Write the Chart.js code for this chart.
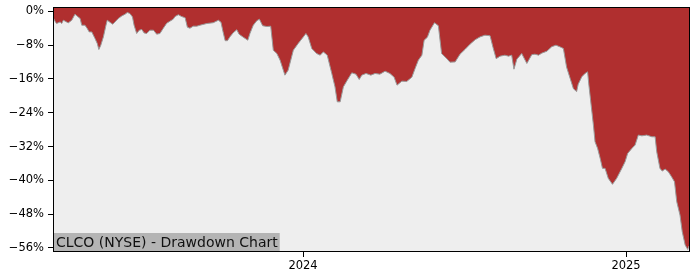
<!DOCTYPE html>
<html>
<head>
<meta charset="utf-8">
<script src="https://cdn.jsdelivr.net/npm/chart.js@4/dist/chart.umd.min.js"></script>
<style>
  body { margin: 0; background: #fff; }
</style>
</head>
<body>
<canvas id="drawdown" width="700" height="280"></canvas>
<script>
// dates as decimal years, drawdown in %
var dates = [
  2023.226, 2023.232, 2023.237, 2023.248, 2023.253, 2023.258, 2023.268, 2023.273, 2023.284, 2023.294,
  2023.304, 2023.310, 2023.315, 2023.325, 2023.332, 2023.338, 2023.346, 2023.356, 2023.363, 2023.368,
  2023.374, 2023.382, 2023.390, 2023.394, 2023.405, 2023.411, 2023.418, 2023.428, 2023.439, 2023.449,
  2023.456, 2023.464, 2023.472, 2023.477, 2023.485, 2023.493, 2023.501, 2023.508, 2023.516, 2023.526,
  2023.537, 2023.547, 2023.557, 2023.567, 2023.578, 2023.588, 2023.598, 2023.604, 2023.614, 2023.624,
  2023.635, 2023.642, 2023.650, 2023.660, 2023.671, 2023.681, 2023.702, 2023.722, 2023.738, 2023.746,
  2023.752, 2023.759, 2023.766, 2023.774, 2023.784, 2023.795, 2023.802, 2023.815, 2023.829, 2023.836,
  2023.846, 2023.857, 2023.865, 2023.875, 2023.888, 2023.900, 2023.908, 2023.919, 2023.929, 2023.944,
  2023.954, 2023.970, 2023.985, 2024.001, 2024.009, 2024.016, 2024.027, 2024.042, 2024.053, 2024.063,
  2024.075, 2024.089, 2024.099, 2024.106, 2024.115, 2024.125, 2024.137, 2024.151, 2024.164, 2024.174,
  2024.182, 2024.195, 2024.210, 2024.223, 2024.238, 2024.254, 2024.269, 2024.282, 2024.291, 2024.306,
  2024.321, 2024.337, 2024.347, 2024.357, 2024.368, 2024.375, 2024.385, 2024.393, 2024.407, 2024.419,
  2024.429, 2024.445, 2024.455, 2024.471, 2024.486, 2024.502, 2024.517, 2024.533, 2024.548, 2024.563,
  2024.579, 2024.588, 2024.598, 2024.610, 2024.625, 2024.636, 2024.646, 2024.653, 2024.662, 2024.677,
  2024.693, 2024.708, 2024.718, 2024.729, 2024.739, 2024.755, 2024.770, 2024.783, 2024.796, 2024.806,
  2024.816, 2024.827, 2024.837, 2024.847, 2024.852, 2024.863, 2024.873, 2024.881, 2024.885, 2024.892,
  2024.899, 2024.904, 2024.912, 2024.920, 2024.927, 2024.935, 2024.945, 2024.958, 2024.971, 2024.987,
  2024.997, 2025.005, 2025.018, 2025.028, 2025.038, 2025.049, 2025.064, 2025.080, 2025.090, 2025.095,
  2025.105, 2025.112, 2025.121, 2025.131, 2025.141, 2025.150, 2025.157, 2025.167, 2025.174, 2025.183,
  2025.191, 2025.195
];
var drawdown = [
  -1.42, -2.36, -2.91, -2.53, -2.91, -2.13, -2.53, -2.76, -2.13, -0.71,
  -1.35, -1.73, -3.31, -3.31, -4.09, -4.89, -4.89, -6.45, -7.63, -9.05,
  -8.03, -6.07, -3.31, -2.13, -2.76, -3.07, -2.53, -1.73, -1.11, -0.71,
  -0.31, -0.54, -1.35, -3.31, -5.27, -4.49, -4.32, -5.13, -5.27, -4.49,
  -4.49, -5.43, -5.27, -4.09, -2.84, -2.36, -1.89, -1.25, -0.83, -1.25,
  -1.54, -3.78, -4.02, -3.54, -3.54, -3.31, -2.91, -2.72, -2.13, -2.60,
  -4.73, -6.97, -6.97, -6.03, -5.08, -4.37, -5.43, -6.14, -6.85, -5.20,
  -3.31, -2.24, -1.89, -3.43, -3.62, -3.54, -9.22, -10.00, -11.58, -15.12,
  -13.94, -9.22, -7.63, -6.07, -5.27, -6.07, -8.81, -10.00, -10.40, -9.62,
  -10.40, -14.72, -17.89, -21.43, -21.43, -17.89, -16.31, -14.58, -14.89, -16.14,
  -15.12, -14.72, -15.12, -14.72, -14.89, -14.18, -14.72, -15.60, -17.49, -16.54,
  -16.61, -15.60, -13.54, -11.58, -10.40, -6.85, -6.14, -4.49, -2.72, -3.43,
  -10.00, -11.22, -12.05, -11.98, -10.16, -8.98, -7.80, -6.73, -6.07, -5.67,
  -5.79, -8.51, -11.22, -10.63, -10.40, -10.63, -10.40, -13.71, -11.34, -10.00,
  -12.36, -10.28, -10.16, -10.40, -9.92, -9.45, -8.39, -8.03, -8.44, -8.81,
  -13.23, -15.90, -18.31, -19.02, -17.25, -15.52, -14.72, -14.34, -17.49, -22.21,
  -26.94, -30.88, -32.44, -34.81, -37.17, -37.17, -39.53, -40.95, -39.53, -37.17,
  -35.61, -33.63, -32.44, -31.66, -29.30, -29.47, -29.30, -29.70, -29.70, -33.25,
  -37.17, -37.81, -37.34, -37.98, -39.16, -40.34, -45.06, -48.21, -52.15, -55.30,
  -56.36, -55.54
];
var xTicks = [2024, 2025];
var yTicks = [0, -8, -16, -24, -32, -40, -48, -56];
var titulo = 'CLCO (NYSE) - Drawdown Chart';

var pontos = dates.map(function (d, i) { return { x: d, y: drawdown[i] }; });

var fundoEMoldura = {
  id: 'fundoEMoldura',
  beforeDatasetsDraw: function (chart) {
    var a = chart.chartArea, ctx = chart.ctx;
    ctx.save();
    ctx.fillStyle = '#eeeeee';
    ctx.fillRect(a.left, a.top, a.right - a.left, a.bottom - a.top);
    ctx.restore();
  },
  afterDatasetsDraw: function (chart) {
    var a = chart.chartArea, ctx = chart.ctx;
    ctx.save();
    // caixa do titulo, canto inferior esquerdo
    ctx.font = '14px "DejaVu Sans"';
    var w = ctx.measureText(titulo).width;
    ctx.fillStyle = '#b4b4b4';
    ctx.fillRect(a.left, a.bottom - 19, w + 5, 19);
    ctx.fillStyle = '#111';
    ctx.textBaseline = 'middle';
    ctx.fillText(titulo, a.left + 3, a.bottom - 9);
    // moldura
    ctx.strokeStyle = '#000';
    ctx.lineWidth = 1;
    ctx.strokeRect(a.left + 0.5, a.top + 0.5, a.right - a.left - 1, a.bottom - a.top - 1);
    ctx.restore();
  }
};

var fonteEixo = { family: 'DejaVu Sans', size: 11.5 };

function semSobra(s) {
  s.paddingTop = 0; s.paddingBottom = 0; s.paddingLeft = 0; s.paddingRight = 0;
}

new Chart(document.getElementById('drawdown').getContext('2d'), {
  type: 'line',
  data: {
    datasets: [{
      data: pontos,
      fill: 'end',
      backgroundColor: '#b02f2f',
      borderColor: '#9a9a9a',
      borderWidth: 1,
      pointRadius: 0,
      tension: 0
    }]
  },
  options: {
    responsive: false,
    animation: false,
    devicePixelRatio: 1,
    layout: { padding: { top: 7, right: 10, left: 0, bottom: 0 } },
    plugins: { legend: { display: false }, tooltip: { enabled: false } },
    scales: {
      x: {
        type: 'linear',
        min: 2023.226,
        max: 2025.198,
        afterBuildTicks: function (s) { s.ticks = xTicks.map(function (v) { return { value: v }; }); },
        afterFit: function (s) { s.height = 28; semSobra(s); },
        border: { display: false },
        grid: { drawOnChartArea: false, drawTicks: true, tickLength: 5, color: '#000' },
        ticks: {
          font: fonteEixo, color: '#000', maxRotation: 0, padding: 2,
          callback: function (v) { return String(v); }
        }
      },
      y: {
        type: 'linear',
        min: -56.95,
        max: 1.0,
        afterBuildTicks: function (s) { s.ticks = yTicks.map(function (v) { return { value: v }; }); },
        afterFit: function (s) { s.width = 53; semSobra(s); },
        border: { display: false },
        grid: { drawOnChartArea: false, drawTicks: true, tickLength: 5, color: '#000' },
        ticks: {
          font: fonteEixo, color: '#000', padding: 4,
          callback: function (v) { return v === 0 ? '0%' : '\u2212' + Math.abs(v) + '%'; }
        }
      }
    }
  },
  plugins: [fundoEMoldura]
});
</script>
</body>
</html>
